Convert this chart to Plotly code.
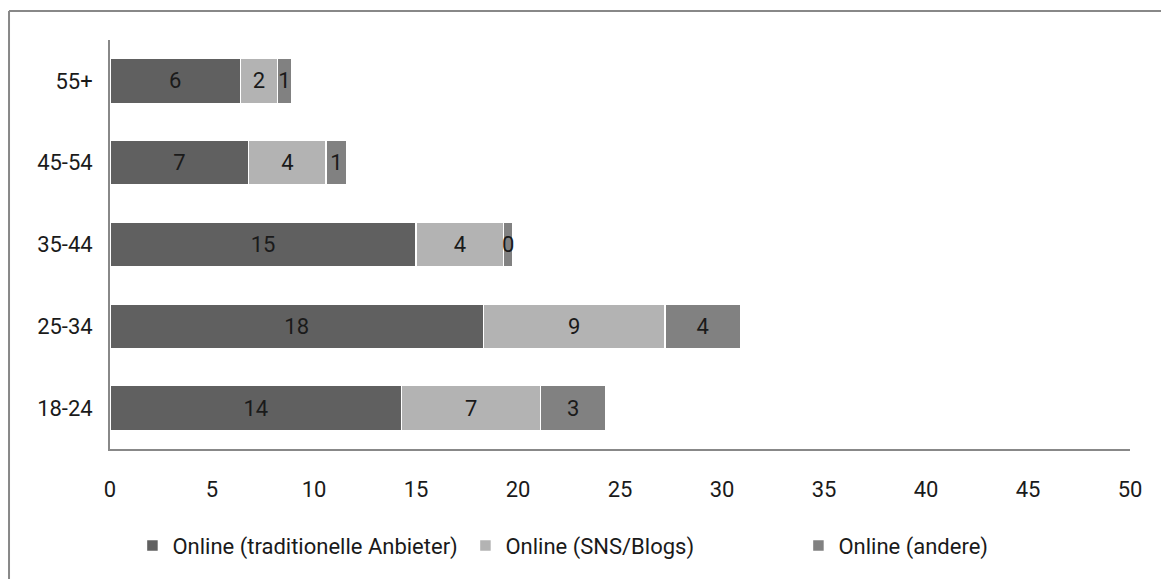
import plotly.graph_objects as go

# age groups, bottom to top
categories = ["18-24", "25-34", "35-44", "45-54", "55+"]

traditional = [14.3, 18.3, 15.0, 6.8, 6.4]
sns_blogs = [6.8, 8.9, 4.3, 3.8, 1.8]
andere = [3.2, 3.7, 0.45, 1.0, 0.7]

series = [
    ("Online (traditionelle Anbieter)", traditional, "#606060"),
    ("Online (SNS/Blogs)", sns_blogs, "#b3b3b3"),
    ("Online (andere)", andere, "#818181"),
]

font_family = "Roboto, sans-serif"
fsize = 22

fig = go.Figure()
for name, vals, color in series:
    fig.add_trace(go.Bar(
        y=categories,
        x=vals,
        name=name,
        orientation="h",
        marker=dict(color=color, line=dict(color="white", width=1.5)),
        texttemplate="%{x:.0f}",
        textposition="inside",
        insidetextanchor="middle",
        textfont=dict(color="#1a1a1a", size=fsize, family=font_family),
        hoverinfo="x+name",
    ))

# page body has an 8px margin, so the figure is sized/offset to compensate
fig.update_layout(
    barmode="stack",
    bargap=0.45,
    width=1161,
    height=571,
    margin=dict(l=102, r=39, t=32, b=124),
    plot_bgcolor="white",
    paper_bgcolor="white",
    font=dict(family=font_family, size=fsize, color="#1a1a1a"),
    uniformtext=dict(minsize=fsize, mode="show"),
    showlegend=True,
    legend=dict(
        orientation="h",
        x=0.022,
        xanchor="left",
        y=-0.185,
        yanchor="top",
        font=dict(size=fsize),
        itemwidth=30,
        entrywidth=288,
        traceorder="normal",
    ),
    xaxis=dict(
        range=[0, 50],
        dtick=5,
        showgrid=False,
        zeroline=False,
        showline=True,
        linecolor="#888888",
        linewidth=2,
        ticks="",
        ticklabelstandoff=20,
        tickfont=dict(size=fsize),
        automargin=False,
    ),
    yaxis=dict(
        showgrid=False,
        showline=True,
        linecolor="#888888",
        linewidth=2,
        ticks="",
        ticksuffix="  ",
        tickfont=dict(size=fsize),
        automargin=False,
    ),
    shapes=[
        dict(type="line", xref="paper", yref="paper", x0=-0.099, x1=-0.099,
             y0=1.071, y1=-0.4, line=dict(color="#888888", width=2)),
        dict(type="line", xref="paper", yref="paper", x0=-0.099, x1=1.05,
             y0=1.071, y1=1.071, line=dict(color="#888888", width=2)),
    ],
)

fig.write_html("out.html")
